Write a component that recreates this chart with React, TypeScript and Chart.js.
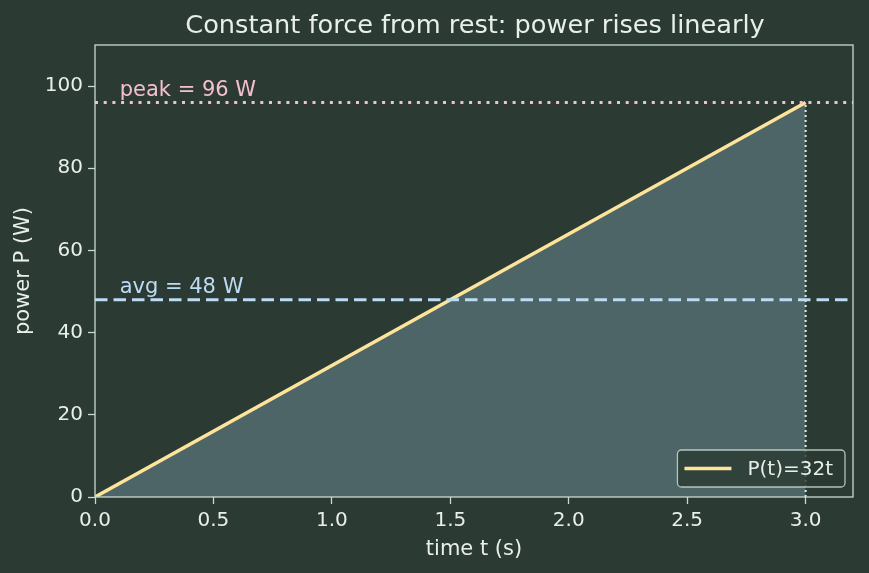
import React, { useEffect, useRef } from "react";
import { Chart, registerables } from "chart.js";

Chart.register(...registerables);

// ---- data ----
const timeS = [0, 3];
const powerW = [0, 96];
const peakW = 96;
const avgW = 48;
const lineLabel = "P(t)=32t";
const peakLabel = "peak = 96 W";
const avgLabel = "avg = 48 W";
const labelAtT = 0.1;
const xRange = [0, 3.2];
const yRange = [0, 110];
const xTickValues = [0, 0.5, 1.0, 1.5, 2.0, 2.5, 3.0];
const yTickValues = [0, 20, 40, 60, 80, 100];
const titleText = "Constant force from rest: power rises linearly";
const xTitle = "time t (s)";
const yTitle = "power P (W)";

// ---- style ----
const FONT = "'DejaVu Sans', 'Liberation Sans', sans-serif";
const BG = "#2b3a33";
const FRAME = "#c8dad0";
const TEXT = "#e8efe9";
const LINE = "#fde49a";
const FILL = "#4d6566";
const PINK = "#f4c0ce";
const BLUE = "#bcdcf4";
const VLINE = "#e4eeea";

const bgPlugin = {
  id: "bgPlugin",
  beforeDraw(chart: any) {
    const { ctx, width, height } = chart;
    ctx.save();
    ctx.fillStyle = BG;
    ctx.fillRect(0, 0, width, height);
    ctx.restore();
  },
};

const decorPlugin = {
  id: "decorPlugin",
  afterDatasetsDraw(chart: any) {
    const { ctx, scales } = chart;
    const x = scales.x.getPixelForValue(labelAtT);
    ctx.save();
    ctx.font = `21px ${FONT}`;
    ctx.textAlign = "left";
    ctx.textBaseline = "alphabetic";
    ctx.fillStyle = PINK;
    ctx.fillText(peakLabel, x + 1, scales.y.getPixelForValue(peakW) - 7);
    ctx.fillStyle = BLUE;
    ctx.fillText(avgLabel, x + 1, scales.y.getPixelForValue(avgW) - 7);
    ctx.restore();
  },
  afterDraw(chart: any) {
    const { ctx, chartArea } = chart;
    const { left, right, top, bottom } = chartArea;
    ctx.save();
    // frame
    ctx.strokeStyle = FRAME;
    ctx.lineWidth = 1.3;
    ctx.strokeRect(left, top, right - left, bottom - top);
    // title
    ctx.font = `25.6px ${FONT}`;
    ctx.fillStyle = TEXT;
    ctx.textAlign = "center";
    ctx.textBaseline = "alphabetic";
    ctx.fillText(titleText, (left + right) / 2 + 1, 33);
    // legend
    ctx.font = `20px ${FONT}`;
    const tw = ctx.measureText(lineLabel).width;
    const boxW = 7 + 47 + 16 + tw + 12;
    const boxH = 37;
    const bx = right - 8 - boxW;
    const by = bottom - 10 - boxH;
    ctx.beginPath();
    (ctx as any).roundRect(bx, by, boxW, boxH, 4);
    ctx.fillStyle = "rgba(43,58,51,0.82)";
    ctx.fill();
    ctx.strokeStyle = "rgba(200,218,208,0.85)";
    ctx.lineWidth = 1.3;
    ctx.stroke();
    const cy = by + boxH / 2;
    ctx.beginPath();
    ctx.moveTo(bx + 7, cy);
    ctx.lineTo(bx + 54, cy);
    ctx.strokeStyle = LINE;
    ctx.lineWidth = 3.5;
    ctx.stroke();
    ctx.fillStyle = TEXT;
    ctx.textAlign = "left";
    ctx.textBaseline = "middle";
    ctx.fillText(lineLabel, bx + 70, cy + 1);
    ctx.restore();
  },
};

export default function App() {
  const ref = useRef<HTMLCanvasElement>(null);
  useEffect(() => {
    const canvas = ref.current!;
    const tickFont = { family: FONT, size: 20 };
    const titleFont = { family: FONT, size: 21 };
    const chart = new Chart(canvas, {
      type: "line",
      data: {
        datasets: [
          {
            label: "peak",
            data: [
              { x: xRange[0], y: peakW },
              { x: xRange[1], y: peakW },
            ],
            borderColor: PINK,
            borderWidth: 3,
            borderDash: [3, 5.7],
            pointRadius: 0,
            fill: false,
          },
          {
            label: "avg",
            data: [
              { x: xRange[0], y: avgW },
              { x: xRange[1], y: avgW },
            ],
            borderColor: BLUE,
            borderWidth: 3,
            borderDash: [12.5, 6],
            pointRadius: 0,
            fill: false,
          },
          {
            label: "end",
            data: [
              { x: timeS[1], y: 0 },
              { x: timeS[1], y: powerW[1] },
            ],
            borderColor: VLINE,
            borderWidth: 2,
            borderDash: [2, 3],
            pointRadius: 0,
            fill: false,
          },
          {
            label: lineLabel,
            data: timeS.map((t, i) => ({ x: t, y: powerW[i] })),
            borderColor: LINE,
            borderWidth: 3.5,
            backgroundColor: FILL,
            fill: "origin",
            pointRadius: 0,
            tension: 0,
          },
        ],
      },
      options: {
        animation: false,
        responsive: false,
        devicePixelRatio: 1,
        layout: { padding: { top: 45, right: 16, left: 0, bottom: 0 } },
        plugins: {
          legend: { display: false },
          tooltip: { enabled: false },
          title: { display: false },
        },
        scales: {
          x: {
            type: "linear",
            min: xRange[0],
            max: xRange[1],
            afterBuildTicks: (s: any) => {
              s.ticks = xTickValues.map((v) => ({ value: v }));
            },
            afterFit: (s: any) => {
              s.height = 76;
            },
            ticks: {
              color: TEXT,
              font: tickFont,
              padding: 5,
              maxRotation: 0,
              autoSkip: false,
              callback: (v: any) => Number(v).toFixed(1),
            },
            grid: {
              display: true,
              drawOnChartArea: false,
              drawTicks: true,
              tickLength: 7,
              tickColor: FRAME,
              tickWidth: 1.3,
            },
            border: { display: false },
            title: {
              display: true,
              text: xTitle,
              color: TEXT,
              font: titleFont,
              padding: { top: 0, bottom: 11 },
            },
          },
          y: {
            type: "linear",
            min: yRange[0],
            max: yRange[1],
            afterBuildTicks: (s: any) => {
              s.ticks = yTickValues.map((v) => ({ value: v }));
            },
            afterFit: (s: any) => {
              s.width = 95;
            },
            ticks: {
              color: TEXT,
              font: tickFont,
              padding: 5,
              autoSkip: false,
              callback: (v: any) => String(v),
            },
            grid: {
              display: true,
              drawOnChartArea: false,
              drawTicks: true,
              tickLength: 7,
              tickColor: FRAME,
              tickWidth: 1.3,
            },
            border: { display: false },
            title: {
              display: true,
              text: yTitle,
              color: TEXT,
              font: titleFont,
              padding: { top: 11, bottom: 0 },
            },
          },
        },
      },
      plugins: [bgPlugin, decorPlugin],
    } as any);
    return () => chart.destroy();
  }, []);
  return (
    <div style={{ position: "absolute", left: 0, top: 0, width: 869, height: 573, background: BG }}>
      <canvas ref={ref} width={869} height={573} style={{ display: "block", width: 869, height: 573 }} />
    </div>
  );
}
